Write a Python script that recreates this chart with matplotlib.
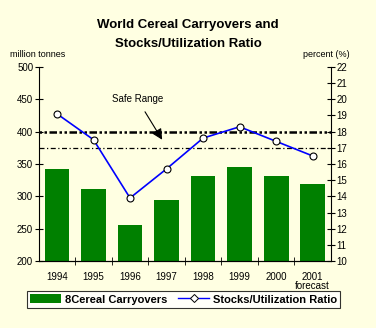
import matplotlib
matplotlib.use("Agg")
import matplotlib.pyplot as plt
from matplotlib.lines import Line2D
from matplotlib.patches import Patch

years = ["1994", "1995", "1996", "1997", "1998", "1999", "2000", "2001\nforecast"]
carryovers = [342, 311, 255, 294, 331, 345, 331, 319]
ratio = [19.1, 17.5, 13.9, 15.7, 17.6, 18.3, 17.4, 16.5]
safe_upper = 18
safe_lower = 17

plt.rcParams['font.family'] = ['Liberation Sans', 'DejaVu Sans']
bg = "#FFFFE2"

fig = plt.figure(figsize=(3.76, 3.28), dpi=100, facecolor=bg)
ax = fig.add_axes([0.103, 0.204, 0.777, 0.592])
ax.set_facecolor(bg)
x = list(range(len(years)))
ax.bar(x, carryovers, width=0.68, color="#008000", zorder=2)
ax.set_ylim(200, 500)
ax.set_xlim(-0.5, len(years) - 0.5)
ax.set_yticks(range(200, 501, 50))
ax.set_xticks(x)
ax.set_xticklabels(years, fontsize=7, linespacing=0.85)
ax.set_xticks([i + 0.5 for i in x[:-1]], minor=True)
ax.tick_params(axis='x', which='major', length=0, pad=8)
ax.tick_params(axis='x', which='minor', length=6, direction='inout')
ax.tick_params(axis='y', labelsize=7, direction='inout', length=6, pad=1)
ax.spines['top'].set_visible(False)
ax.spines['right'].set_visible(False)

ax2 = ax.twinx()
ax2.set_ylim(10, 22)
ax2.set_yticks(range(10, 23))
ax2.tick_params(axis='y', labelsize=7, direction='inout', length=6, pad=1)
ax2.spines['top'].set_visible(False)
ax2.spines['left'].set_visible(False)
ax2.axhline(safe_upper, color='black', lw=1.8, ls=(0, (1, 1, 1, 1, 3, 1)), zorder=1)
ax2.axhline(safe_lower, color='black', lw=0.9, ls=(0, (4, 2, 1, 2)), zorder=1)
ax2.plot(x, ratio, color='#0000FF', lw=1.2, marker='o', ms=5,
         mfc='white', mec='black', mew=0.8, zorder=3)
ax2.annotate("Safe Range", xy=(2.88, 17.5), xytext=(2.2, 20.0),
             fontsize=7, ha='center', va='center',
             arrowprops=dict(arrowstyle='-|>', color='black', lw=0.8,
                             mutation_scale=16, shrinkA=4, shrinkB=0))

fig.text(0.5, 0.925, "World Cereal Carryovers and", ha='center', va='center',
         fontsize=9.5, fontweight='bold')
fig.text(0.5, 0.867, "Stocks/Utilization Ratio", ha='center', va='center',
         fontsize=9.5, fontweight='bold')
fig.text(0.027, 0.835, "million tonnes", ha='left', va='center', fontsize=6.5)
fig.text(0.93, 0.835, "percent (%)", ha='right', va='center', fontsize=6.5)

handles = [Patch(facecolor='#008000', edgecolor='none'),
           Line2D([0], [0], color='#0000FF', lw=1, marker='D', ms=4,
                  mfc='white', mec='black', mew=0.7)]
leg = fig.legend(handles, ["8Cereal Carryovers", "Stocks/Utilization Ratio"],
                 loc='center', bbox_to_anchor=(0.488, 0.087), ncol=2,
                 prop={'size': 8, 'weight': 'bold'}, frameon=True,
                 fancybox=False, edgecolor='black', facecolor='white',
                 handlelength=2.8, handleheight=0.9, columnspacing=1.0,
                 borderpad=0.3, handletextpad=0.3)
leg.get_frame().set_linewidth(0.8)

fig.savefig("out.png", dpi=100, facecolor=bg)
